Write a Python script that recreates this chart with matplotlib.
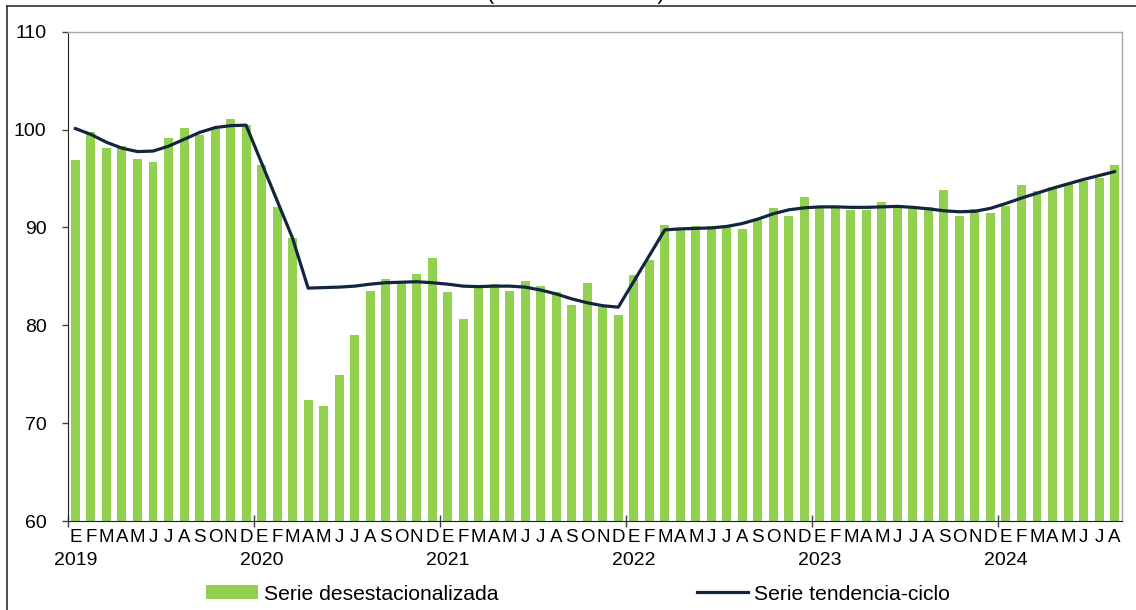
import numpy as np
import matplotlib
matplotlib.use("Agg")
import matplotlib.pyplot as plt
from matplotlib.lines import Line2D
from matplotlib.patches import Patch
import matplotlib.transforms as mtransforms

plt.rcParams['font.family'] = ['Liberation Sans', 'DejaVu Sans']

years = ["2019", "2020", "2021", "2022", "2023", "2024"]
month_letters = ["E", "F", "M", "A", "M", "J", "J", "A", "S", "O", "N", "D"]

# Serie desestacionalizada (Jan 2019 - Aug 2024)
desest = [
    96.9, 99.8, 98.1, 98.3, 97.0, 96.7, 99.1, 100.2, 99.4, 100.1, 101.1, 100.5,   # 2019
    96.4, 92.1, 88.9, 72.4, 71.8, 74.9, 79.0, 83.5, 84.7, 84.4, 85.2, 86.9,       # 2020
    83.4, 80.6, 83.8, 84.2, 83.5, 84.5, 84.0, 83.4, 82.1, 84.3, 81.9, 81.1,       # 2021
    85.1, 86.7, 90.2, 89.8, 90.1, 90.1, 90.0, 89.8, 90.8, 92.0, 91.2, 93.1,       # 2022
    92.1, 92.0, 91.8, 91.8, 92.6, 92.1, 92.0, 92.1, 93.8, 91.2, 91.9, 91.5,       # 2023
    92.2, 94.3, 93.7, 94.1, 94.5, 94.7, 95.0, 96.4,                               # 2024
]

# Serie tendencia-ciclo (NaN where not published; gaps are bridged as in the source)
nan = np.nan
tendencia = [
    100.1, 99.5, 98.7, 98.1, 97.75, 97.8, 98.3, 99.0, 99.7, 100.2, 100.4, 100.45,
    nan, nan, 88.9, 83.8, 83.85, 83.9, 84.0, 84.2, 84.35, 84.4, 84.45, 84.35,
    84.2, 84.0, 83.95, 84.0, 84.0, 83.9, 83.6, 83.2, 82.7, 82.3, 82.0, 81.85,
    nan, nan, 89.75, 89.85, 89.9, 89.95, 90.1, 90.4, 90.85, 91.4, 91.8, 92.0,
    92.1, 92.1, 92.05, 92.05, 92.1, 92.15, 92.05, 91.9, 91.7, 91.6, 91.65, 91.95,
    92.45, 93.0, 93.5, 94.0, 94.45, 94.9, 95.3, 95.7,
]

n = len(desest)
x = np.arange(n)
tend = np.array(tendencia, dtype=float)
valid = ~np.isnan(tend)

fig = plt.figure(figsize=(11.36, 6.10), dpi=100)
ax = fig.add_axes([67.7 / 1136, 1 - 521 / 610, (1122.3 - 67.7) / 1136, (521 - 31.7) / 610])

green = "#92D050"
navy = "#14263F"

ax.bar(x, desest, width=0.58, color=green, zorder=2)
ax.plot(x[valid], tend[valid], color=navy, lw=2.3, zorder=3, solid_joinstyle='round')

ax.set_xlim(-0.5, n - 0.5)
ax.set_ylim(60, 110)
ax.set_yticks([60, 70, 80, 90, 100, 110])
ax.tick_params(axis='y', direction='out', length=4.3, width=1, color='#404040',
               labelsize=14, pad=11)

# x axis: year separators as major ticks, month letters as minor tick labels
ax.set_xticks([12 * k - 0.5 for k in range(len(years))])
ax.set_xticklabels([])
ax.tick_params(axis='x', which='major', direction='inout', length=9, width=1, color='#404040')
ax.set_xticks(x, minor=True)
ax.set_xticklabels([month_letters[i % 12] for i in range(n)], minor=True)
ax.tick_params(axis='x', which='minor', length=0, labelsize=13.5, pad=6)

trans = mtransforms.blended_transform_factory(ax.transData, ax.transAxes)
for k, yr in enumerate(years):
    ax.text(12 * k, -0.08, yr, transform=trans, ha='center', va='center', fontsize=14)

for side in ['top', 'right']:
    ax.spines[side].set_color('#A6A6A6')
    ax.spines[side].set_linewidth(1)
ax.spines['left'].set_color('#202020')
ax.spines['bottom'].set_color('#202020')

handles = [Patch(facecolor=green, edgecolor='none', label='Serie desestacionalizada'),
           Line2D([0], [0], color=navy, lw=2.3, label='Serie tendencia-ciclo')]
fig.legend(handles=handles, loc='center', bbox_to_anchor=(0.509, 1 - 594 / 610), ncol=2,
           frameon=False, fontsize=15.2, handlelength=2.45, handletextpad=0.28,
           columnspacing=9.4, handleheight=0.65, borderpad=0.1)

# outer frame (partly cropped) and cropped title
fig.add_artist(Line2D([7 / 1136, 7 / 1136], [0, 1 - 6 / 610], transform=fig.transFigure,
                      color='#303030', lw=1.2))
fig.add_artist(Line2D([7 / 1136, 1], [1 - 6 / 610, 1 - 6 / 610], transform=fig.transFigure,
                      color='#303030', lw=1.2))
fig.text(0.5066, 1 + 1.0 / 610, "(Base 2021 = 100)", ha='center', va='baseline',
         fontsize=15.5)

fig.savefig("out.png", dpi=100)
